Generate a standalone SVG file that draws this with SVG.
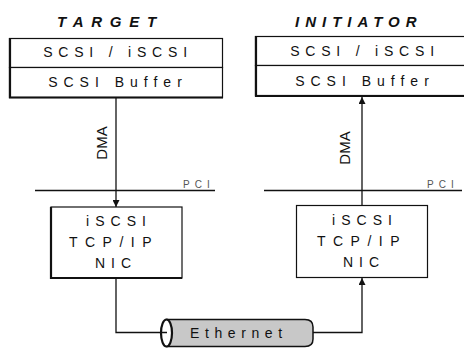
<svg xmlns="http://www.w3.org/2000/svg" width="464" height="349" viewBox="0 0 464 349">
<defs>
<style>
.box{fill:#fff;stroke:#111;stroke-width:1.2}
.edge{fill:none;stroke:#111;stroke-width:2.2}
.t{font-family:"Liberation Sans",Arial,sans-serif;font-size:14px;fill:#111;text-anchor:middle}
.title{font-family:"Liberation Sans",Arial,sans-serif;font-size:15px;font-weight:bold;font-style:italic;fill:#111}
.pci{font-family:"Liberation Sans",Arial,sans-serif;font-size:10px;fill:#555;letter-spacing:5px}
.dma{font-family:"Liberation Sans",Arial,sans-serif;font-size:15px;fill:#111;text-anchor:middle}
.ln{fill:none;stroke:#111;stroke-width:1.3}
</style>
<marker id="ah" viewBox="0 0 10 10" refX="10" refY="5" markerWidth="7" markerHeight="7" markerUnits="userSpaceOnUse" orient="auto">
<path d="M0,0 L10,5 L0,10 Z" fill="#111"/>
</marker>
</defs>
<rect width="464" height="349" fill="#fff"/>

<g id="target">
<text class="title" x="57" y="27" letter-spacing="7.7">TARGET</text>
<rect class="box" x="9.5" y="38.5" width="213" height="29"/>
<rect class="box" x="9.5" y="67.5" width="213" height="30"/>
<path class="edge" d="M10,38 V97.5 H223"/>
<text class="t" x="118" y="57" letter-spacing="5.8">SCSI / iSCSI</text>
<text class="t" x="118" y="87" letter-spacing="6">SCSI Buffer</text>
</g>

<g id="initiator">
<text class="title" x="295" y="27" letter-spacing="6">INITIATOR</text>
<rect class="box" x="255.5" y="36.5" width="214" height="29"/>
<rect class="box" x="255.5" y="65.5" width="214" height="30"/>
<path class="edge" d="M256,36 V96 H470"/>
<text class="t" x="365" y="56" letter-spacing="5.8">SCSI / iSCSI</text>
<text class="t" x="365" y="86" letter-spacing="6">SCSI Buffer</text>
</g>

<g id="pci-target">
<line class="ln" x1="35" y1="190.5" x2="215" y2="190.5"/>
<text class="pci" x="183" y="188">PCI</text>
</g>
<g id="pci-initiator">
<line class="ln" x1="264" y1="190.5" x2="462" y2="190.5"/>
<text class="pci" x="427" y="188">PCI</text>
</g>

<g id="nic-target">
<rect class="box" x="51" y="207" width="131" height="71"/>
<path class="edge" d="M51,207 V278 H182"/>
<text class="t" x="119" y="226" letter-spacing="6">iSCSI</text>
<text class="t" x="114" y="247" letter-spacing="7.5">TCP/IP</text>
<text class="t" x="116" y="268" letter-spacing="6">NIC</text>
</g>

<g id="nic-initiator">
<rect class="box" x="296.5" y="205.5" width="131" height="72"/>
<text class="t" x="365" y="225" letter-spacing="6">iSCSI</text>
<text class="t" x="362" y="246" letter-spacing="7.5">TCP/IP</text>
<text class="t" x="364" y="267" letter-spacing="6">NIC</text>
</g>

<g id="ethernet">
<path d="M167,319.5 L305,319.5 Q313,319.5 313,327 L313,339 Q313,346.5 305,346.5 L167,346.5 Z" fill="#c8c8c8" stroke="#111" stroke-width="1.5"/>
<ellipse cx="166.5" cy="333" rx="5.5" ry="13.5" fill="#fff" stroke="#111" stroke-width="2.2"/>
<text class="t" x="190" y="338" letter-spacing="5.6" style="text-anchor:start">Ethernet</text>
</g>

<g id="connectors">
<line class="ln" x1="116" y1="98" x2="116" y2="207" marker-end="url(#ah)"/>
<text class="dma" transform="translate(107,143) rotate(-90)">DMA</text>
<line class="ln" x1="362" y1="205" x2="362" y2="97" marker-end="url(#ah)"/>
<text class="dma" transform="translate(350,148) rotate(-90)">DMA</text>
<polyline class="ln" points="116,278 116,332.5 167,332.5"/>
<polyline class="ln" points="313,332.5 362,332.5 362,278" marker-end="url(#ah)"/>
</g>
</svg>
